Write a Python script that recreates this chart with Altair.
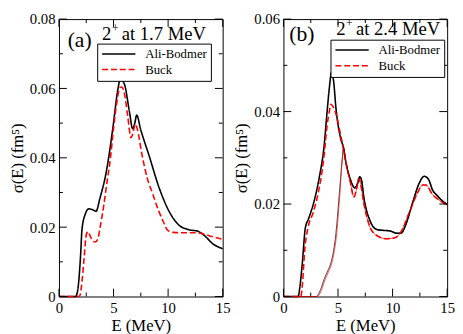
import altair as alt
import pandas as pd

FONT = "Liberation Serif, Times New Roman, serif"
MODELS = ["Ali-Bodmer", "Buck"]

# ---------- Panel (a): 2+ at 1.7 MeV ----------
a_ab_E = [0, 1.5, 1.6, 1.8, 2.0, 2.1, 2.4, 2.75, 3.1, 3.4, 3.75, 4.35, 4.95, 5.4, 5.62, 6.0, 6.45,
          6.75, 6.95, 7.12, 7.5, 8.25, 9.15, 10.05, 10.95, 11.85, 12.75, 13.35, 14.1, 15.0]
a_ab_s = [0, 0, 0.0003, 0.004, 0.013, 0.019, 0.0237, 0.0253, 0.0250, 0.0246, 0.0283, 0.0362, 0.0489,
          0.0598, 0.0627, 0.0612, 0.0534, 0.0484, 0.0500, 0.0523, 0.0480, 0.0407, 0.0316, 0.0248,
          0.0207, 0.0193, 0.0188, 0.0175, 0.0152, 0.0138]

a_bk_E = [0, 1.7, 1.9, 2.1, 2.3, 2.5, 2.65, 2.85, 3.1, 3.3, 3.55, 3.8, 4.1, 4.4, 4.7, 5.0, 5.3, 5.6,
          5.75, 6.0, 6.3, 6.6, 6.75, 7.0, 7.2, 7.6, 8.1, 8.6, 9.1, 9.5, 10.0, 10.5, 11.3, 12.5, 13.2,
          13.7, 15.0]
a_bk_s = [0, 0, 0.0002, 0.004, 0.011, 0.0178, 0.0187, 0.0175, 0.0160, 0.0157, 0.0165, 0.0205,
          0.0262, 0.0330, 0.0395, 0.0485, 0.0560, 0.0603, 0.0604, 0.0585, 0.0520, 0.0458, 0.0468,
          0.0497, 0.0480, 0.0410, 0.0340, 0.0295, 0.0250, 0.0220, 0.0190, 0.0185, 0.0184, 0.0184,
          0.0181, 0.0176, 0.0165]

# ---------- Panel (b): 2+ at 2.4 MeV ----------
b_ab_E = [0, 1.35, 1.5, 1.71, 2.01, 2.3, 2.85, 3.3, 3.7, 4.0, 4.2, 4.41, 4.6, 4.8, 5.25, 5.5, 5.7,
          6.15, 6.54, 6.8, 6.99, 7.15, 7.35, 7.95, 8.55, 9.15, 9.75, 10.35, 10.8, 11.1, 11.85, 12.4,
          12.9, 13.3, 13.65, 14.1, 14.55, 15.0]
b_ab_s = [0, 0, 0.002, 0.0067, 0.0149, 0.0168, 0.0210, 0.0260, 0.0320, 0.0400, 0.0450, 0.0485,
          0.0465, 0.0410, 0.0341, 0.0322, 0.0293, 0.0252, 0.0235, 0.0245, 0.0259, 0.0252, 0.0217,
          0.0163, 0.0145, 0.0143, 0.0142, 0.0137, 0.0137, 0.0149, 0.0204, 0.0243, 0.0260, 0.0253,
          0.0231, 0.0218, 0.0207, 0.0200]

b_bk_E = [0, 1.59, 1.75, 1.95, 2.25, 2.7, 3.15, 3.7, 4.0, 4.2, 4.35, 4.55, 4.8, 5.25, 5.5, 5.7,
          6.15, 6.45, 6.7, 6.9, 7.1, 7.35, 7.95, 8.55, 9.45, 10.05, 10.65, 11.55, 12.3, 12.75, 13.05,
          13.65, 14.55, 15.0]
b_bk_s = [0, 0, 0.003, 0.0101, 0.0149, 0.0180, 0.0220, 0.0300, 0.0370, 0.0400, 0.0416, 0.0410,
          0.0396, 0.0348, 0.0320, 0.0293, 0.0245, 0.0215, 0.0232, 0.0255, 0.0240, 0.0204, 0.0149,
          0.0132, 0.0125, 0.0126, 0.0135, 0.0183, 0.0225, 0.0241, 0.0241, 0.0221, 0.0204, 0.0197]

b_ab_thin_E = [0, 3.0, 3.4, 3.75, 4.05, 4.35, 4.6, 4.8, 5.1, 5.4, 5.5]
b_ab_thin_s = [0, 0, 0.0015, 0.0039, 0.0055, 0.0073, 0.0100, 0.0135, 0.0217, 0.0300, 0.0322]
b_bk_thin_E = [0, 3.1, 3.5, 3.8, 4.1, 4.4, 4.65, 4.85, 5.15, 5.4, 5.5]
b_bk_thin_s = [0, 0, 0.0015, 0.0036, 0.0052, 0.0070, 0.0097, 0.0130, 0.0215, 0.0300, 0.0320]

W, H = 167, 283


def frame(E, s, model):
    return pd.DataFrame({"E": E, "sigma": s, "model": model})


def tail(E, s, start):
    pts = [(e, v) for e, v in zip(E, s) if e > start]
    return [p[0] for p in pts], [p[1] for p in pts]


def legend(lx, ly):
    return alt.Legend(orient="none", legendX=lx, legendY=ly, title=None, strokeColor="black",
                      fillColor="white", padding=4, symbolType="stroke", symbolSize=1150,
                      symbolStrokeWidth=1.5, labelFont=FONT, labelFontSize=13, rowPadding=2,
                      clipHeight=13, labelOffset=9, labelColor="black", cornerRadius=0)


def ticks(xs, ys, xmaj, xmin, ymaj, ymin):
    layers = []
    for vals, ln in ((xmaj, 8), (xmin, 4)):
        d = pd.DataFrame({"E": vals})
        for y0, y1 in ((H, H - ln), (0, ln)):
            layers.append(alt.Chart(d).mark_rule(color="black", strokeWidth=1).encode(
                x=alt.X("E:Q", scale=xs), y=alt.value(y0), y2=alt.value(y1)))
    for vals, ln in ((ymaj, 8), (ymin, 4)):
        d = pd.DataFrame({"sigma": vals})
        for x0, x1 in ((0, ln), (W, W - ln)):
            layers.append(alt.Chart(d).mark_rule(color="black", strokeWidth=1).encode(
                y=alt.Y("sigma:Q", scale=ys), x=alt.value(x0), x2=alt.value(x1)))
    return layers


def panel(main_df, thin_df, ymax, ymaj, ymin, tag, tagpos, lab, labpos, lx, ly):
    xs = alt.Scale(domain=[0, 15], nice=False, zero=False)
    ys = alt.Scale(domain=[0, ymax], nice=False, zero=False)
    cscale = alt.Scale(domain=MODELS, range=["black", "red"])
    dscale = alt.Scale(domain=MODELS, range=[[1, 0], [6, 3]])
    lg = legend(lx, ly)
    main = alt.Chart(main_df).mark_line(interpolate="monotone", strokeWidth=1.6).encode(
        x=alt.X("E:Q", scale=xs,
                axis=alt.Axis(values=[0, 5, 10, 15], title="E (MeV)", labelFlush=False,
                              format="d", labelFont=FONT, titleFont=FONT)),
        y=alt.Y("sigma:Q", scale=ys,
                axis=alt.Axis(values=ymaj, title="σ(E) (fm⁵)", labelFont=FONT, titleFont=FONT,
                              labelExpr="datum.value == 0 ? '0' : format(datum.value, '.2f')")),
        color=alt.Color("model:N", scale=cscale, legend=lg),
        strokeDash=alt.StrokeDash("model:N", scale=dscale, legend=lg),
    )
    layers = [main]
    if thin_df is not None:
        thin = alt.Chart(thin_df).mark_line(interpolate="monotone", strokeWidth=0.7).encode(
            x=alt.X("E:Q", scale=xs), y=alt.Y("sigma:Q", scale=ys),
            color=alt.Color("model:N", scale=cscale, legend=None))
        layers.append(thin)
    layers += ticks(xs, ys, [0, 5, 10, 15], [2.5, 7.5, 12.5], ymaj, ymin)
    tdf = pd.DataFrame({"E": [tagpos[0]], "sigma": [tagpos[1]], "t": [tag]})
    layers.append(alt.Chart(tdf).mark_text(font=FONT, fontSize=22, align="center",
                                           baseline="middle", color="black").encode(
        x=alt.X("E:Q", scale=xs), y=alt.Y("sigma:Q", scale=ys), text="t:N"))
    ldf = pd.DataFrame({"E": [labpos[0]], "sigma": [labpos[1]]})
    base = alt.Chart(ldf).encode(x=alt.X("E:Q", scale=xs), y=alt.Y("sigma:Q", scale=ys))
    layers.append(base.mark_text(font=FONT, fontSize=19, align="left", baseline="alphabetic",
                                 color="black", text="2"))
    layers.append(base.mark_text(font=FONT, fontSize=12, align="left", baseline="alphabetic",
                                 color="black", text="+", dx=10, dy=-8))
    layers.append(base.mark_text(font=FONT, fontSize=19, align="left", baseline="alphabetic",
                                 color="black", text=lab, dx=20))
    return alt.layer(*layers).properties(width=W, height=H)


df_a = pd.concat([frame(a_ab_E, a_ab_s, "Ali-Bodmer"), frame(a_bk_E, a_bk_s, "Buck")])
df_b = pd.concat([frame(b_ab_E, b_ab_s, "Ali-Bodmer"), frame(b_bk_E, b_bk_s, "Buck")])
tE1, ts1 = tail(b_ab_E, b_ab_s, 5.5)
tE2, ts2 = tail(b_bk_E, b_bk_s, 5.5)
thin_b = pd.concat([frame(b_ab_thin_E + tE1, b_ab_thin_s + ts1, "Ali-Bodmer"),
                    frame(b_bk_thin_E + tE2, b_bk_thin_s + ts2, "Buck")])

pa = panel(df_a, None, 0.08, [0, 0.02, 0.04, 0.06, 0.08], [0.01, 0.03, 0.05, 0.07],
           "(a)", (1.89, 0.0740), "at 1.7 MeV", (3.95, 0.0740), 39, 25)
pb = panel(df_b, thin_b, 0.06, [0, 0.02, 0.04, 0.06], [0.01, 0.03, 0.05],
           "(b)", (1.68, 0.0568), "at 2.4 MeV", (4.84, 0.0566), 48, 21)

chart = alt.hconcat(pa, pb, spacing=2).resolve_scale(
    color="independent", strokeDash="independent").resolve_legend(
    color="independent", strokeDash="independent").properties(padding=0).configure(
    font=FONT).configure_view(stroke="black", strokeWidth=1).configure_axis(
    labelFont=FONT, labelFontSize=15, titleFont=FONT, titleFontSize=17, titleFontWeight="normal",
    labelColor="black", titleColor="black", grid=False, ticks=False, domain=False,
    labelPadding=4, titlePadding=3).configure_legend(labelFont=FONT)

chart.save("out.html", embed_options={"renderer": "svg", "actions": False})
